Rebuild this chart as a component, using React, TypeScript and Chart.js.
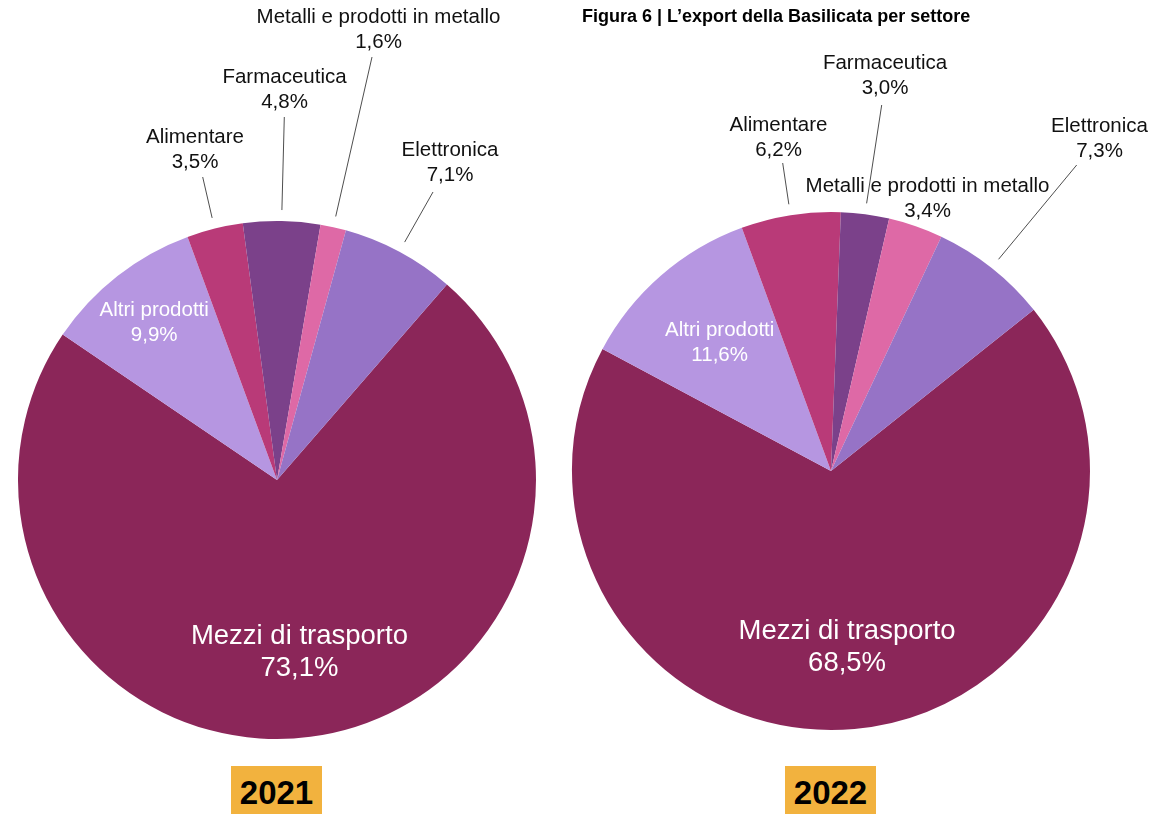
import React, { useEffect, useRef } from "react";
import { Chart, registerables } from "chart.js";

Chart.register(...registerables);

// ---- data ----
const sectors = [
  "Mezzi di trasporto",
  "Altri prodotti",
  "Alimentare",
  "Farmaceutica",
  "Metalli e prodotti in metallo",
  "Elettronica",
];
const values2021 = [73.1, 9.9, 3.5, 4.8, 1.6, 7.1];
const values2022 = [68.5, 11.6, 6.2, 3.0, 3.4, 7.3];
const sectorColors = ["#8B2659", "#B696E1", "#B93A78", "#7B418A", "#DE69A6", "#9673C6"];
const years = ["2021", "2022"];
const title = "Figura 6 | L\u2019export della Basilicata per settore";

// ---- label layout (annotation placement, relative to pie centre) ----
type Lbl =
  | { mode: "inside"; rFrac: number; size: number; gap: number }
  | { mode: "outside"; dx: number; dy: number; ex?: number; ey?: number };

const layout2021: Lbl[] = [
  { mode: "inside", rFrac: 0.67, size: 27.5, gap: 32 },
  { mode: "inside", rFrac: 0.77, size: 20.5, gap: 25 },
  { mode: "outside", dx: -82, dy: -343, ex: -74.3, ey: -303 },
  { mode: "outside", dx: 7.5, dy: -403, ex: 7.3, ey: -363 },
  { mode: "outside", dx: 101.5, dy: -463, ex: 95, ey: -423 },
  { mode: "outside", dx: 173, dy: -330, ex: 156, ey: -288 },
];
const layout2022: Lbl[] = [
  { mode: "inside", rFrac: 0.685, size: 27.5, gap: 32 },
  { mode: "inside", rFrac: 0.655, size: 20.5, gap: 25 },
  { mode: "outside", dx: -52.5, dy: -346, ex: -48.3, ey: -308 },
  { mode: "outside", dx: 54, dy: -408, ex: 50.7, ey: -366 },
  { mode: "outside", dx: 96.5, dy: -285 },
  { mode: "outside", dx: 268.5, dy: -345, ex: 245.7, ey: -306 },
];

const FONT = '"Liberation Sans", Arial, Helvetica, sans-serif';
const fmt = (v: number) => v.toFixed(1).replace(".", ",") + "%";

const labelPlugin = {
  id: "pieLabels",
  afterDatasetsDraw(chart: any, _args: any, opts: any) {
    const ctx = chart.ctx as CanvasRenderingContext2D;
    const meta = chart.getDatasetMeta(0);
    const values: number[] = chart.data.datasets[0].data;
    const labels: string[] = chart.data.labels;
    const lay: Lbl[] = opts.layout;
    ctx.save();
    meta.data.forEach((arc: any, i: number) => {
      const { x, y, startAngle, endAngle, outerRadius } = arc.getProps(
        ["x", "y", "startAngle", "endAngle", "outerRadius"],
        true
      );
      const mid = (startAngle + endAngle) / 2;
      const L = lay[i];
      const t1 = labels[i];
      const t2 = fmt(values[i]);
      ctx.textAlign = "center";
      ctx.textBaseline = "middle";
      if (L.mode === "inside") {
        const cx = x + Math.cos(mid) * outerRadius * L.rFrac;
        const cy = y + Math.sin(mid) * outerRadius * L.rFrac;
        ctx.fillStyle = "#ffffff";
        ctx.font = `${L.size}px ${FONT}`;
        ctx.fillText(t1, cx, cy - L.gap / 2);
        ctx.fillText(t2, cx, cy + L.gap / 2);
      } else {
        if (L.ex !== undefined && L.ey !== undefined) {
          const sx = x + Math.cos(mid) * (outerRadius + 11);
          const sy = y + Math.sin(mid) * (outerRadius + 11);
          ctx.strokeStyle = "#3a3a3a";
          ctx.lineWidth = 0.9;
          ctx.beginPath();
          ctx.moveTo(sx, sy);
          ctx.lineTo(x + L.ex, y + L.ey);
          ctx.stroke();
        }
        ctx.fillStyle = "#111111";
        ctx.font = `20.5px ${FONT}`;
        ctx.fillText(t1, x + L.dx, y + L.dy);
        ctx.fillText(t2, x + L.dx, y + L.dy + 25);
      }
    });
    ctx.restore();
  },
};

type PieProps = {
  values: number[];
  layout: Lbl[];
  rotation: number;
  left: number;
  width: number;
  padding: { left: number; right: number; top: number; bottom: number };
};

function Pie({ values, layout, rotation, left, width, padding }: PieProps) {
  const ref = useRef<HTMLCanvasElement | null>(null);
  useEffect(() => {
    if (!ref.current) return;
    const chart = new Chart(ref.current, {
      type: "pie",
      data: {
        labels: sectors,
        datasets: [
          {
            data: values,
            backgroundColor: sectorColors,
            borderWidth: 0,
          },
        ],
      },
      options: {
        animation: false,
        responsive: false,
        rotation,
        layout: { padding },
        plugins: {
          legend: { display: false },
          tooltip: { enabled: false },
          title: { display: false },
          pieLabels: { layout },
        } as any,
      },
      plugins: [labelPlugin],
    });
    return () => chart.destroy();
  }, []);
  return (
    <canvas
      ref={ref}
      width={width}
      height={816}
      style={{ position: "absolute", left, top: 0, width, height: 816 }}
    />
  );
}

const yearBox = (left: number): React.CSSProperties => ({
  position: "absolute",
  left,
  top: 766,
  width: 91,
  height: 48,
  background: "#F2B23E",
  color: "#000",
  fontFamily: FONT,
  fontWeight: "bold",
  fontSize: 33,
  lineHeight: "48px",
  textAlign: "center",
});

export default function App() {
  return (
    <div style={{ position: "absolute", left: 0, top: 0, width: 1151, height: 816, background: "#fff" }}>
      <Pie
        values={values2021}
        layout={layout2021}
        rotation={41}
        left={0}
        width={560}
        padding={{ left: 18, right: 24, top: 221, bottom: 77 }}
      />
      <Pie
        values={values2022}
        layout={layout2022}
        rotation={51.5}
        left={560}
        width={591}
        padding={{ left: 12, right: 61, top: 212, bottom: 86 }}
      />
      <div
        style={{
          position: "absolute",
          left: 582,
          top: 6,
          fontFamily: FONT,
          fontWeight: "bold",
          fontSize: 18,
          whiteSpace: "nowrap",
          color: "#000",
        }}
      >
        {title}
      </div>
      <div style={yearBox(231)}>
        <span style={{ position: "relative", top: 3 }}>{years[0]}</span>
      </div>
      <div style={yearBox(785)}>
        <span style={{ position: "relative", top: 3 }}>{years[1]}</span>
      </div>
    </div>
  );
}
